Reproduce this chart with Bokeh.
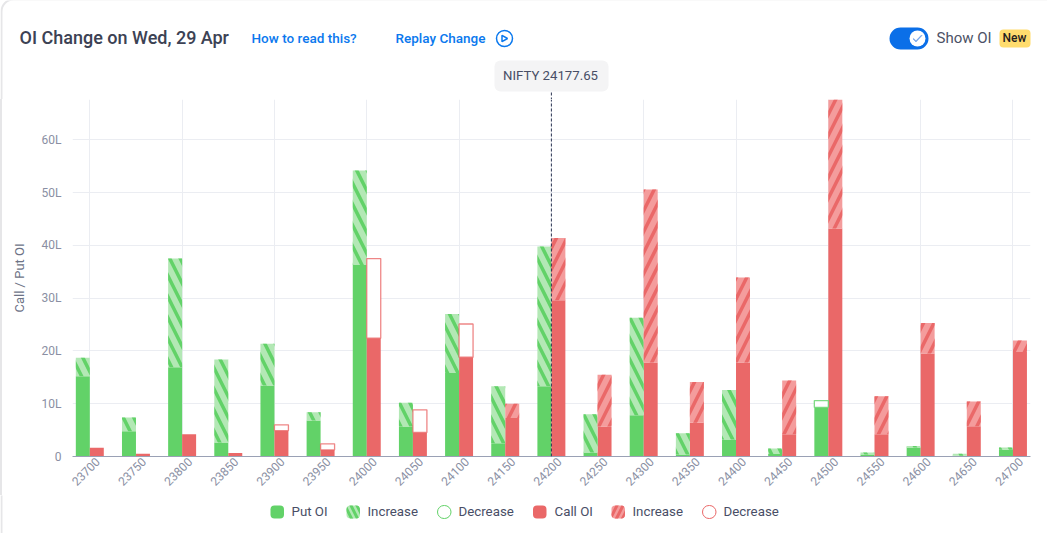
from bokeh.plotting import figure
from bokeh.models import (BoxAnnotation, Label, PolyAnnotation, FixedTicker, Grid, Range1d)
from bokeh.embed import file_html
from bokeh.resources import INLINE

strikes = [23700, 23750, 23800, 23850, 23900, 23950, 24000, 24050, 24100, 24150, 24200,
           24250, 24300, 24350, 24400, 24450, 24500, 24550, 24600, 24650, 24700]
put_base = [15.2, 4.8, 16.9, 2.65, 13.45, 6.8, 36.3, 5.7, 15.8, 2.5, 13.3,
            0.75, 7.8, 0.4, 3.2, 0.45, 9.3, 0.4, 1.7, 0.15, 1.3]
put_top = [18.7, 7.4, 37.5, 18.4, 21.35, 8.4, 54.2, 10.2, 27.0, 13.3, 39.8,
           8.0, 26.3, 4.4, 12.6, 1.5, 10.6, 0.75, 2.0, 0.5, 1.7]
put_state = ["I"] * 16 + ["D"] + ["I"] * 4
call_base = [1.65, 0.5, 4.2, 0.65, 4.9, 1.25, 22.4, 4.55, 18.8, 7.3, 29.6,
             5.7, 17.8, 6.4, 17.8, 4.2, 43.2, 4.2, 19.5, 5.75, 19.8]
call_top = [1.65, 0.5, 4.2, 0.65, 6.0, 2.4, 37.5, 8.85, 25.1, 10.0, 41.4,
            15.5, 50.6, 14.1, 33.9, 14.4, 69.0, 11.4, 25.3, 10.4, 22.0]
call_state = ["I"] * 4 + ["D"] * 5 + ["I"] * 12
y_ticks = [0, 10, 20, 30, 40, 50, 60]
spot_label = "NIFTY 24177.65"
spot_strike = 24200

GREEN, LGREEN = "#62d268", "#b3e8b5"
RED, LRED = "#ea6868", "#f49c9c"
INK, BLUE = "#484e66", "#0b79ee"
W, H = 1047, 533
FL, FR, FT, FB = 72, 1030, 99, 456
LEG_TOP = 495
XLO, XHI = -0.375, 20.38
BW = 0.303
TICK_SHIFT = 0.17
EDGE = "#e6e6e8"

idx = list(range(len(strikes)))
p = figure(width=W, height=LEG_TOP - FT, output_backend="svg", toolbar_location=None,
           x_range=Range1d(XLO, XHI), y_range=Range1d(0, 67.64),
           min_border_left=FL, min_border_right=W - FR, min_border_top=0, min_border_bottom=LEG_TOP - FB)
p.outline_line_color = None
p.background_fill_color = "white"
p.border_fill_color = None
p.styles = {"background": f"linear-gradient({EDGE},{EDGE}) 0px 0px / 2px 100% no-repeat"}

def bars(xs, bottoms, tops, **kw):
    p.vbar(x=xs, bottom=bottoms, top=tops, width=BW, **kw)

bars([i - BW / 2 for i in idx], [0] * len(idx), put_base, fill_color=GREEN, line_color=None)
bars([i + BW / 2 for i in idx], [0] * len(idx), call_base, fill_color=RED, line_color=None)

for base, top, state, sign, col, light, hatch in [
    (put_base, put_top, put_state, -1, GREEN, LGREEN, "left_diagonal_line"),
    (call_base, call_top, call_state, 1, RED, LRED, "right_diagonal_line"),
]:
    inc = [i for i in idx if state[i] == "I" and top[i] > base[i]]
    dec = [i for i in idx if state[i] == "D" and top[i] > base[i]]
    bars([i + sign * BW / 2 for i in inc], [base[i] for i in inc], [top[i] for i in inc],
         fill_color=light, line_color=None, hatch_pattern=hatch, hatch_color=col,
         hatch_scale=21, hatch_weight=3.5)
    bars([i + sign * BW / 2 for i in dec], [base[i] for i in dec], [top[i] for i in dec],
         fill_color="white", line_color=col, line_width=1.3, line_alpha=0.8)

p.xgrid.visible = False
p.ygrid.ticker = FixedTicker(ticks=y_ticks)
p.ygrid.grid_line_color = "#ebedf2"
p.ygrid.grid_line_width = 1
p.add_layout(Grid(dimension=0, ticker=FixedTicker(ticks=idx[::2]), grid_line_color="#ebedf2", grid_line_width=1))

tick_pos = [round(i + TICK_SHIFT, 2) for i in idx]
p.xaxis.ticker = FixedTicker(ticks=tick_pos)
p.xaxis.major_label_overrides = {t: str(s) for t, s in zip(tick_pos, strikes)}
p.xaxis.major_label_orientation = 0.785
p.xaxis.major_label_text_font = "Roboto"
p.xaxis.major_label_text_font_size = "12px"
p.xaxis.major_label_text_color = "#8a8fa3"
p.xaxis.major_tick_line_color = None
p.xaxis.minor_tick_line_color = None
p.xaxis.axis_line_color = "#9aa1b5"
p.xaxis.major_label_standoff = -3

p.yaxis.ticker = FixedTicker(ticks=y_ticks)
p.yaxis.major_label_overrides = {t: ("0" if t == 0 else f"{t}L") for t in y_ticks}
p.yaxis.major_label_text_font = "Roboto"
p.yaxis.major_label_text_font_size = "12px"
p.yaxis.major_label_text_color = "#8a8fa3"
p.yaxis.major_tick_line_color = None
p.yaxis.minor_tick_line_color = None
p.yaxis.axis_line_color = None
p.yaxis.major_label_standoff = 5
p.yaxis.axis_label = "Call / Put OI"
p.yaxis.axis_label_text_font = "Roboto"
p.yaxis.axis_label_text_font_style = "normal"
p.yaxis.axis_label_text_font_size = "13px"
p.yaxis.axis_label_text_color = "#6d7386"
p.yaxis.axis_label_standoff = 12

spot_i = strikes.index(spot_strike)
spot_px = FL + (spot_i - XLO) / (XHI - XLO) * (FR - FL)
DASH = dict(fill_alpha=0, line_alpha=1, line_color="#2a3350", line_width=1, line_dash="3 2", editable=False)
p.add_layout(PolyAnnotation(xs=[spot_i, spot_i], ys=[0, 67.64], **DASH))


def strip(y0, y1):
    f = figure(width=W, height=y1 - y0, output_backend="svg", toolbar_location=None,
               x_range=Range1d(0, W), y_range=Range1d(y1, y0), x_axis_location=None, y_axis_location=None,
               min_border_left=0, min_border_right=0, min_border_top=0, min_border_bottom=0)
    f.outline_line_color = None
    f.background_fill_color = None
    f.border_fill_color = None
    f.grid.visible = False
    return f

def box(f, x0, x1, y0, y1, **kw):
    kw.setdefault("fill_alpha", 1)
    kw.setdefault("line_alpha", 1)
    kw.setdefault("hatch_alpha", 1)
    f.add_layout(BoxAnnotation(left=x0, right=x1, top=y0, bottom=y1, editable=False, **kw))

def text(f, x, y, s, size, color=INK, align="left", font="Roboto"):
    f.add_layout(Label(x=x - 1, y=y - 0.6, text=s, text_font=font, text_font_size=f"{size}px", text_color=color,
                       text_align=align, text_baseline="middle"))

def poly(f, pts, **kw):
    kw.setdefault("fill_alpha", 1)
    kw.setdefault("line_alpha", 1)
    f.add_layout(PolyAnnotation(xs=[a for a, _ in pts], ys=[b for _, b in pts], editable=False, **kw))

# header strip
h = strip(0, FT)
box(h, 1, 1060, -1, 140, fill_alpha=0, line_color=EDGE, line_width=2, border_radius=12)
text(h, 20, 38, "OI Change on Wed, 29 Apr", 18, "#3c4254", font="Roboto Medium")
text(h, 252, 38.5, "How to read this?", 13.5, BLUE, font="Roboto Medium")
text(h, 396, 38, "Replay Change", 13.5, BLUE, font="Roboto Medium")
box(h, 496, 512, 30, 46, fill_color="white", line_color=BLUE, line_width=1.5, border_radius=8)
poly(h, [(501.5, 34.8), (501.5, 41.2), (507, 38)], fill_color="white", line_color=BLUE, line_width=1.5)
box(h, 889, 928, 27, 49, fill_color="#0b6fe8", line_color=None, border_radius=11)
box(h, 909, 925, 30, 46, fill_color="white", line_color=None, border_radius=8)
poly(h, [(912.5, 38.5), (915.5, 41.5), (921.5, 35), (921, 34.5), (915.5, 40.3), (913, 37.9)],
     fill_color="#6c9fe8", line_color="#6c9fe8", line_width=0.5)
text(h, 937, 38, "Show OI", 15, "#4c5266")
box(h, 999, 1030, 29, 47, fill_color="#ffdc6e", line_color=None, border_radius=4)
text(h, 1015, 38.5, "New", 12, "#1f2020", align="center", font="Roboto Medium")
h.add_layout(PolyAnnotation(xs=[spot_px, spot_px], ys=[92, FT], **DASH))
box(h, 494, 608, 60, 91, fill_color="#f4f4f5", line_color=None, border_radius=6)
text(h, 551, 75.5, spot_label, 13.2, INK, align="center")

# legend strip
g = strip(LEG_TOP, H)
box(g, 1, 1060, LEG_TOP - 50, H + 50, fill_alpha=0, line_color=EDGE, line_width=2)
LY0, LY1 = 505, 518
def hatch_swatch(x0, col, light, hatch):
    box(g, x0, x0 + 13.5, LY0, LY1, fill_color=light, line_color=None, border_radius=4,
        hatch_pattern=hatch, hatch_color=col, hatch_scale=12, hatch_weight=3)
box(g, 270, 283.5, LY0, LY1, fill_color=GREEN, line_color=None, border_radius=4)
text(g, 292, 511.5, "Put OI", 13.3)
hatch_swatch(346, GREEN, LGREEN, "left_diagonal_line")
text(g, 368, 511.5, "Increase", 13.3)
box(g, 437, 450.5, LY0, LY1, fill_color="white", line_color=GREEN, line_width=1, border_radius=7)
text(g, 459, 511.5, "Decrease", 13.3)
box(g, 532.5, 546, LY0, LY1, fill_color=RED, line_color=None, border_radius=4)
text(g, 555, 511.5, "Call OI", 13.3)
hatch_swatch(611, RED, LRED, "right_diagonal_line")
text(g, 633, 511.5, "Increase", 13.3)
box(g, 702, 715.5, LY0, LY1, fill_color="white", line_color=RED, line_width=1, border_radius=7)
text(g, 724, 511.5, "Decrease", 13.3)

open("out.html", "w").write(file_html([h, p, g], INLINE))
